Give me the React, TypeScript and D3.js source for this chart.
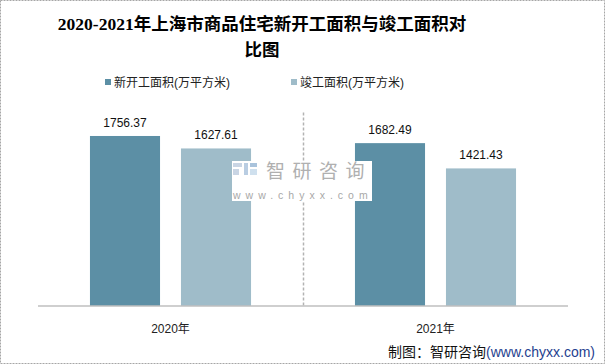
import * as d3 from 'd3';

const years = ['2020年', '2021年'];
const seriesNames = ['新开工面积(万平方米)', '竣工面积(万平方米)'];
const newStarts = [1756.37, 1682.49];
const completed = [1627.61, 1421.43];
const seriesColors = ['#5c8fa5', '#9fbcc9'];

const W = 605;
const H = 364;
const plot = { left: 38, right: 568, top: 112.4, bottom: 306 };
const cjk = '"Liberation Sans", Arial, "Noto Sans CJK SC", sans-serif';

export default function App() {
  const x = d3.scaleBand<string>().domain(years).range([plot.left, plot.right]);
  const inner = d3
    .scaleBand<string>()
    .domain(seriesNames)
    .range([0, x.bandwidth()])
    .paddingInner(0.23)
    .paddingOuter(0.571);
  const y = d3.scaleLinear().domain([0, 2000]).range([plot.bottom, plot.top]);

  const values = [newStarts, completed];
  const bars = years.flatMap((yr, i) =>
    seriesNames.map((s, j) => ({ yr, s, v: values[j][i], color: seriesColors[j] }))
  );

  const divX = (x('2020年')! + x.bandwidth() + x('2021年')!) / 2 + 0.5;

  return (
    <svg width={W} height={H} style={{ position: 'absolute', left: 0, top: 0 }}>
      <rect x={0} y={0} width={W} height={H} fill="#fff" />
      <rect x={0.5} y={0.5} width={W - 1} height={H - 1} fill="none" stroke="#a6a6a6" strokeDasharray="2,1" />

      {/* 标题 */}
      <text
        x={262}
        textAnchor="middle"
        fontFamily='"Liberation Serif", "Times New Roman", "Noto Sans CJK SC", serif'
        fontWeight="bold"
        fontSize={17.5}
        fill="#000"
      >
        <tspan x={262} y={30}>2020-2021年上海市商品住宅新开工面积与竣工面积对</tspan>
        <tspan x={262} y={56}>比图</tspan>
      </text>

      {/* 图例 */}
      {seriesNames.map((s, j) => {
        const lx = j === 0 ? 105 : 291;
        return (
          <g key={s}>
            <rect x={lx} y={79} width={6} height={6} fill={seriesColors[j]} />
            <text x={lx + 9} y={86.5} fontFamily={cjk} fontSize={12} fill="#222">
              {s}
            </text>
          </g>
        );
      })}

      {/* 柱子 */}
      {bars.map((b) => {
        const bx = x(b.yr)! + inner(b.s)!;
        return (
          <g key={b.yr + b.s}>
            <rect x={bx} y={y(b.v)} width={inner.bandwidth()} height={plot.bottom - y(b.v)} fill={b.color} />
            <text
              x={bx + inner.bandwidth() / 2}
              y={y(b.v) - 9}
              textAnchor="middle"
              fontFamily={cjk}
              fontSize={12}
              fill="#111"
            >
              {b.v.toFixed(2)}
            </text>
          </g>
        );
      })}

      {/* 分隔线 */}
      <line x1={divX} x2={divX} y1={plot.top} y2={plot.bottom} stroke="#b3b3b3" strokeWidth={1.5} strokeDasharray="3,2" />

      {/* 水印 */}
      <g>
        <rect x={232} y={161} width={140} height={40} fill="#fff" />
        <rect x={233} y={163} width={9} height={4} fill="#c9d5e4" />
        <rect x={233} y={169} width={6} height={6} fill="#c9d5e4" />
        <rect x={244} y={163} width={4} height={12} fill="#b9cde2" />
        <rect x={250} y={163} width={7} height={4} fill="#a9c3dc" />
        <rect x={250} y={169} width={7} height={6} fill="#cfe0ee" />
        <text x={266} y={178} fontFamily={cjk} fontSize={19} letterSpacing={7.5} fill="#b0b0b0">
          智研咨询
        </text>
        <text x={233} y={199} fontFamily={cjk} fontSize={10.5} letterSpacing={5} fill="#a8a8a8">
          www.chyxx.com
        </text>
      </g>

      {/* X轴 */}
      <line x1={plot.left} x2={plot.right} y1={plot.bottom} y2={plot.bottom} stroke="#bfbfbf" strokeWidth={1.5} />
      {years.map((yr) => (
        <text
          key={yr}
          x={x(yr)! + x.bandwidth() / 2}
          y={333}
          textAnchor="middle"
          fontFamily={cjk}
          fontSize={12}
          fill="#222"
        >
          {yr}
        </text>
      ))}

      {/* 来源 */}
      <text x={595} y={357} textAnchor="end" fontFamily={cjk} fontSize={14} fill="#111">
        制图：智研咨询<tspan fill="#1f3f8f">(www.chyxx.com)</tspan>
      </text>
    </svg>
  );
}
